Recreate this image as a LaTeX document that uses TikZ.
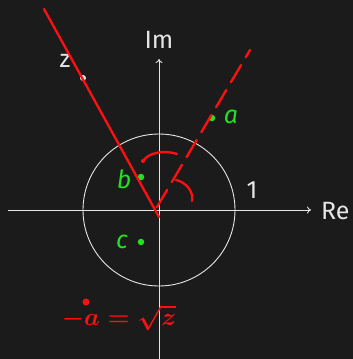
\documentclass[tikz,border=0pt]{standalone}
\usepackage{fontspec}
\setmainfont{Fira Sans}
\usetikzlibrary{arrows.meta}
\definecolor{bg}{HTML}{1B1B1B}
\definecolor{axis}{HTML}{E6E6E6}
\definecolor{pt}{HTML}{22E022}
\definecolor{ink}{HTML}{FF1010}
\tikzset{
  axisline/.style={draw=axis, line width=0.9pt, -{To[length=4pt,width=7pt]}},
  lbl/.style={text=axis, font=\fontsize{25}{25}\selectfont, inner sep=0pt},
  glbl/.style={text=pt, font=\fontsize{25}{25}\selectfont\itshape, inner sep=0pt},
  gdot/.style={circle, fill=pt, inner sep=0pt, minimum size=6.5pt},
  redline/.style={draw=ink, line width=2.3pt, line cap=round},
}
\begin{document}
\begin{tikzpicture}[x=1pt,y=-1pt]
\fill[bg] (0,0) rectangle (353,359);
\useasboundingbox (0,0) rectangle (353,359);
% axes
\coordinate (O) at (159,210);
\coordinate (xs) at (8,210);
\coordinate (xe) at (311,210);
\coordinate (ys) at (159,359);
\coordinate (ye) at (159,59);
\draw[axisline] (xs) -- (xe);
\draw[axisline] (ys) -- (ye);
\draw[axis, line width=0.9pt] (O) circle[radius=76];
\node[lbl, anchor=west] (re) at (321,211) {Re};
\node[lbl] (im) at (159,40) {Im};
\node[lbl] (one) at (252,190) {1};
% points
\node[gdot] (a) at (212,118) {};
\node[glbl] (al) at (231,117) {a};
\node[gdot] (b) at (141,177) {};
\node[glbl] (bl) at (124,179) {b};
\node[gdot] (c) at (141,242) {};
\node[glbl] (cl) at (122,242) {c};
\node[circle, fill=axis, inner sep=0pt, minimum size=6pt] (z) at (83,78) {};
\node[lbl] (zl) at (65,61) {z};
% red annotations
\coordinate (r1) at (44,9);
\coordinate (r2) at (159,217);
\draw[redline] (r1) -- (r2);
\coordinate (d1) at (157,207);
\coordinate (d2) at (250,50);
\draw[redline, dash pattern=on 20pt off 9pt] (d1) -- (d2);
\draw[redline] (143,161) .. controls (149,152) and (165,150) .. (177,154);
\fill[ink] (143,161) circle[radius=2pt];
\draw[redline] (176,180) .. controls (186,182) and (194,192) .. (192,201);
\fill[ink] (86,302) circle[radius=3.5pt];
\node[text=ink, font=\fontsize{30}{30}\selectfont\boldmath, inner sep=0pt] (eq) at (119,318) {$-a=\sqrt{z}$};
\end{tikzpicture}
\end{document}
